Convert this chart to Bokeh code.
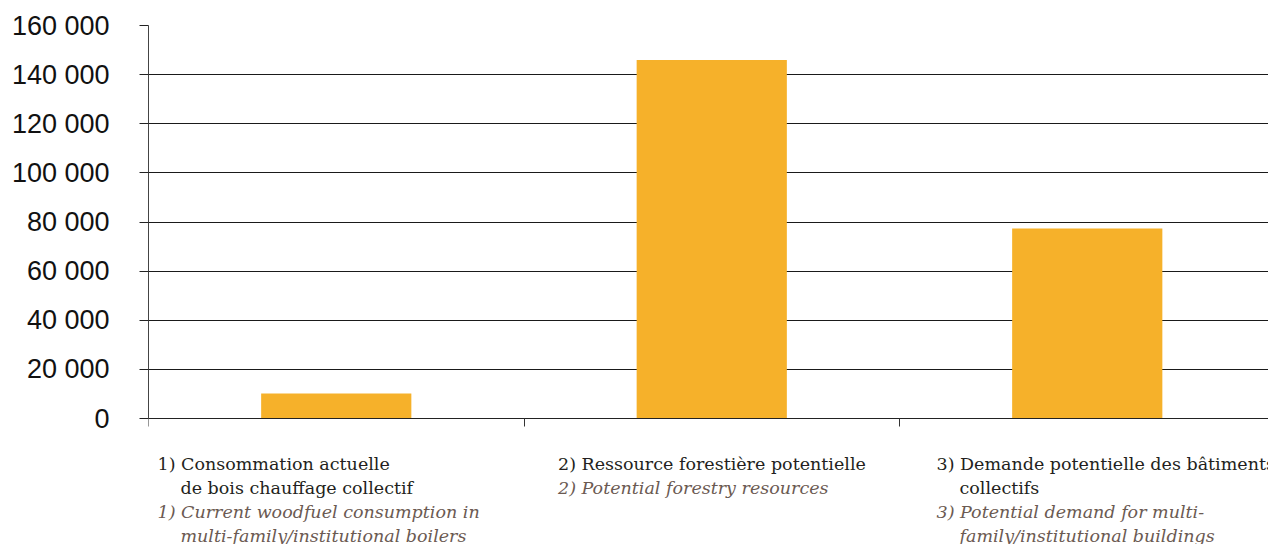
from bokeh.plotting import figure
from bokeh.models import Range1d, FixedTicker
from bokeh.core.properties import value
from bokeh.embed import file_html
from bokeh.resources import INLINE

# ---- data ----
categories = ["1", "2", "3"]
values = [10200, 146000, 77400]
y_ticks = [0, 20000, 40000, 60000, 80000, 100000, 120000, 140000, 160000]
fr_lines = [
    ["1) Consommation actuelle", "de bois chauffage collectif"],
    ["2) Ressource forestière potentielle"],
    ["3) Demande potentielle des bâtiments", "collectifs"],
]
en_lines = [
    ["1) Current woodfuel consumption in", "multi-family/institutional boilers"],
    ["2) Potential forestry resources"],
    ["3) Potential demand for multi-", "family/institutional buildings"],
]

BAR = "#F6B12A"
FR_COLOR = "#231F20"
EN_COLOR = "#6B5A52"

W, H = 1268, 544
LEFT, TOP = 148, 25
ZERO_PX = 418          # pixel row of the zero line
CAT_PX = 375.5         # pixel width of one category
Y_MAX = 160000
px_per_unit = (ZERO_PX - TOP) / Y_MAX
y_start = -(H - ZERO_PX) / px_per_unit

p = figure(width=W, height=H, output_backend="svg", toolbar_location=None,
           x_range=Range1d(0, (W - LEFT) / CAT_PX), y_range=Range1d(y_start, Y_MAX),
           min_border_left=LEFT, min_border_right=0, min_border_top=TOP,
           min_border_bottom=0)
p.outline_line_color = None
p.background_fill_color = "white"
p.border_fill_color = "white"

xs = [i + 0.5 for i in range(len(categories))]
p.vbar(x=xs, top=values, width=0.4, bottom=0, fill_color=BAR, line_color=None)

# y axis
p.yaxis.ticker = FixedTicker(ticks=y_ticks)
p.yaxis.bounds = (0, Y_MAX)
p.yaxis.major_label_overrides = {t: f"{t:,}".replace(",", " ") for t in y_ticks}
p.yaxis.major_label_text_font = "Liberation Sans"
p.yaxis.major_label_text_font_size = "27px"
p.yaxis.major_label_text_color = "#111111"
p.yaxis.major_label_standoff = 30
p.yaxis.major_tick_out = 9
p.yaxis.major_tick_in = 0
p.yaxis.minor_tick_line_color = None
p.yaxis.axis_line_color = "#444444"
p.yaxis.major_tick_line_color = "#222222"

# x axis at zero
p.xaxis.fixed_location = 0
p.xaxis.ticker = FixedTicker(ticks=[0, 1, 2, 3])
p.xaxis.major_label_text_font_size = "0px"
p.xaxis.major_label_text_color = None
p.xaxis.major_tick_out = 8
p.xaxis.major_tick_in = 0
p.xaxis.minor_tick_line_color = None
p.xaxis.axis_line_color = "#222222"
p.xaxis.major_tick_line_color = "#333333"

p.xgrid.grid_line_color = None
p.ygrid.ticker = FixedTicker(ticks=y_ticks)
p.ygrid.grid_line_color = "#1a1a1a"
p.ygrid.grid_line_width = 1

# category labels below the axis
x_off = [9, 34, 37]
indent = 23
line_h = 24
first_y = 45
for i in range(len(categories)):
    row = 0
    for j, t in enumerate(fr_lines[i]):
        p.text(x=[i], y=[0], text=[t],
               x_offset=x_off[i] + (indent if j > 0 else 0),
               y_offset=first_y + row * line_h,
               text_font=value("DejaVu Serif"), text_font_size="17.5px",
               text_color=FR_COLOR, text_baseline="middle", text_align="left")
        row += 1
    for j, t in enumerate(en_lines[i]):
        p.text(x=[i], y=[0], text=[t],
               x_offset=x_off[i] + (indent if j > 0 else 0),
               y_offset=first_y + row * line_h,
               text_font=value("DejaVu Serif"), text_font_style="italic",
               text_font_size="17.5px",
               text_color=EN_COLOR, text_baseline="middle", text_align="left")
        row += 1

open("out.html", "w").write(file_html(p, INLINE))
